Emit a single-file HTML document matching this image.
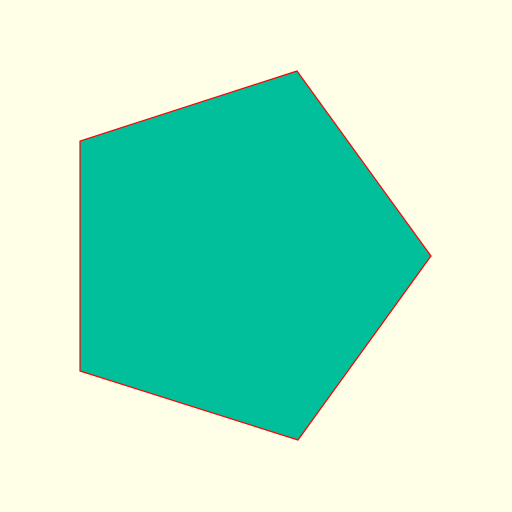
<!DOCTYPE html>
<html>
<head>
<meta charset="utf-8">
<style>
  html, body { margin: 0; padding: 0; background: #ffffe8; }
  svg { display: block; }
</style>
</head>
<body>
<svg id="chart" width="512" height="512" viewBox="0 0 512 512">
  <rect x="0" y="0" width="512" height="512" fill="#ffffe8"/>
</svg>
<script>
const vertexX = [297, 431, 298, 80, 80];
const vertexY = [71, 256, 440, 371, 141];

const svg = document.getElementById('chart');
const pts = vertexX.map((x, i) => x + ',' + vertexY[i]).join(' ');
const poly = document.createElementNS('http://www.w3.org/2000/svg', 'polygon');
poly.setAttribute('points', pts);
poly.setAttribute('fill', '#00bf9a');
poly.setAttribute('stroke', '#ff0000');
poly.setAttribute('stroke-width', '1.2');
poly.setAttribute('stroke-linejoin', 'miter');


svg.appendChild(poly);
</script>
</body>
</html>
